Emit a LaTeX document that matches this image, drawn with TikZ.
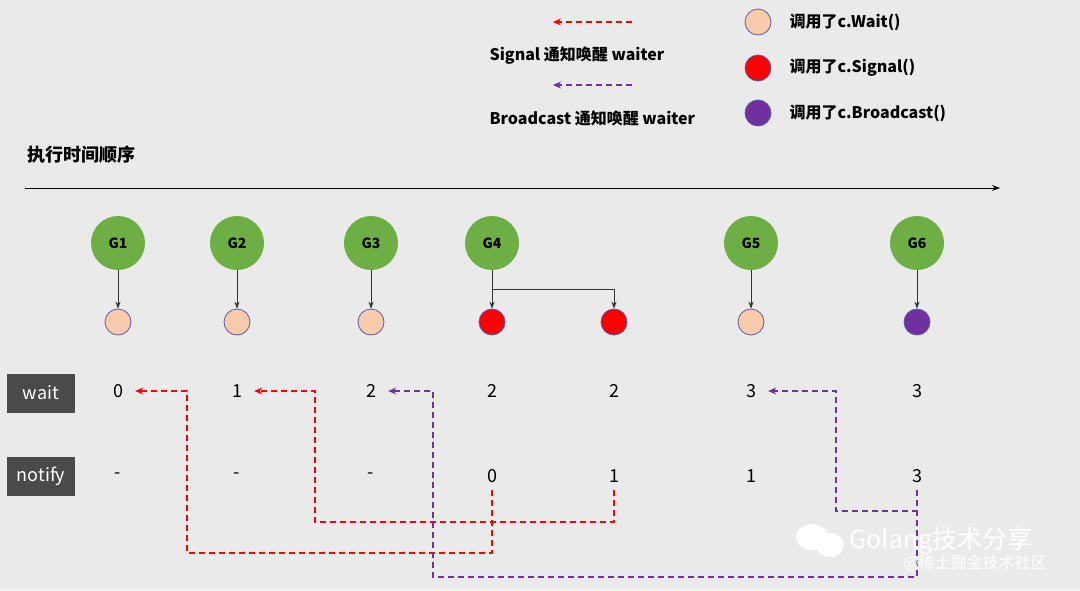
\documentclass[tikz,border=0pt]{standalone}
\usepackage{fontspec}
\setmainfont{Noto Sans CJK SC}
\usetikzlibrary{arrows.meta}
\definecolor{bg}{HTML}{EAEAEA}
\definecolor{gg}{HTML}{6DAE45}
\definecolor{peach}{HTML}{F8CBAD}
\definecolor{rr}{HTML}{FF0000}
\definecolor{pp}{HTML}{7030A0}
\definecolor{boxc}{HTML}{4A4A4A}
\tikzset{
 x=1pt,y=-1pt,
 gnode/.style={circle,fill=gg,minimum size=54pt,inner sep=0pt,font=\fontsize{14}{14}\selectfont\bfseries},
 sm/.style={circle,draw=gray!70!blue,line width=0.8pt,minimum size=26pt,inner sep=0pt},
 val/.style={font=\fontsize{18}{18}\selectfont,inner xsep=12pt},
 lab/.style={fill=boxc,text=white,minimum width=68pt,minimum height=39pt,font=\fontsize{18}{18}\selectfont},
 rdash/.style={draw=rr,dash pattern=on 6pt off 4pt,line width=1.5pt,-{Stealth[length=8pt,width=7pt]}},
 pdash/.style={draw=pp,dash pattern=on 6pt off 4pt,line width=1.5pt,-{Stealth[length=8pt,width=7pt]}},
 link/.style={draw=black!80,line width=0.9pt,-{Stealth[length=7pt]}},
 legt/.style={anchor=west,font=\fontsize{16}{16}\selectfont\bfseries},
}
\begin{document}
\begin{tikzpicture}
\fill[bg] (0,0) rectangle (1080,590);
\useasboundingbox (0,0) rectangle (1080,590);
% legend
\coordinate (ra) at (632,22); \coordinate (rb) at (553,22);
\draw[rdash] (ra) -- (rb);
\node[legt] (ls) at (486,56) {Signal 通知唤醒 waiter};
\coordinate (pa) at (632,85); \coordinate (pb) at (553,85);
\draw[pdash] (pa) -- (pb);
\node[legt] (lb) at (486,118) {Broadcast 通知唤醒 waiter};
\node[sm,fill=peach] (c1) at (758,22) {};
\node[sm,fill=rr] (c2) at (758,68) {};
\node[sm,fill=pp] (c3) at (758,113) {};
\node[legt] (t1) at (786,22) {调用了c.Wait()};
\node[legt] (t2) at (786,68) {调用了c.Signal()};
\node[legt] (t3) at (786,113) {调用了c.Broadcast()};
% axis
\node[anchor=west,font=\fontsize{18}{18}\selectfont\bfseries] (title) at (24,155) {执行时间顺序};
\coordinate (ax1) at (25,188); \coordinate (ax2) at (1000,188);
\draw[black,line width=0.9pt,-{Stealth[length=8pt]}] (ax1) -- (ax2);
% goroutines
\foreach \n/\x in {1/118,2/237,3/371,4/492,5/751,6/917}{
 \node[gnode] (G\n) at (\x,243) {G\n};
}
\node[sm,fill=peach] (s1) at (118,322) {};
\node[sm,fill=peach] (s2) at (237,322) {};
\node[sm,fill=peach] (s3) at (371,322) {};
\node[sm,fill=rr] (s4) at (492,322) {};
\node[sm,fill=rr] (s4b) at (614,322) {};
\node[sm,fill=peach] (s5) at (751,322) {};
\node[sm,fill=pp] (s6) at (917,322) {};
\foreach \n in {1,2,3,4,5,6}{\draw[link] (G\n) -- (s\n);}
\draw[link] (G4.south) -- (492,289) -| (s4b.north);
% labels
\node[lab] (lw) at (41,393) {wait};
\node[lab] (ln) at (41,476) {notify};
\foreach \k/\x/\a/\b in {1/118/0/-,2/237/1/-,3/371/2/-,4/492/2/0,5/614/2/1,6/751/3/1,7/917/3/3}{
 \node[val] (w\k) at (\x,391) {\a};
 \node[val] (n\k) at (\x,476) {\b};
}
% connectors
\draw[rdash] (492,490) -- (492,553) -- (187,553) -- (187,391) -- (w1.east);
\draw[rdash] (614,490) -- (614,522) -- (315,522) -- (315,391) -- (w2.east);
\draw[pdash] (917,490) -- (917,577) -- (433,577) -- (433,391) -- (w3.east);
\draw[pdash] (917,490) -- (917,511) -- (836,511) -- (836,391) -- (w6.east);
% watermark
\fill[white] (812,537) ellipse (16pt and 13pt);
\fill[white] (830,545) ellipse (14pt and 12pt);
\node[anchor=west,text=white,font=\fontsize{25}{25}\selectfont] (wm1) at (846,541) {Golang技术分享};
\node[anchor=west,text=white,font=\fontsize{16}{16}\selectfont] (wm2) at (900,563) {@稀土掘金技术社区};
\end{tikzpicture}
\end{document}
